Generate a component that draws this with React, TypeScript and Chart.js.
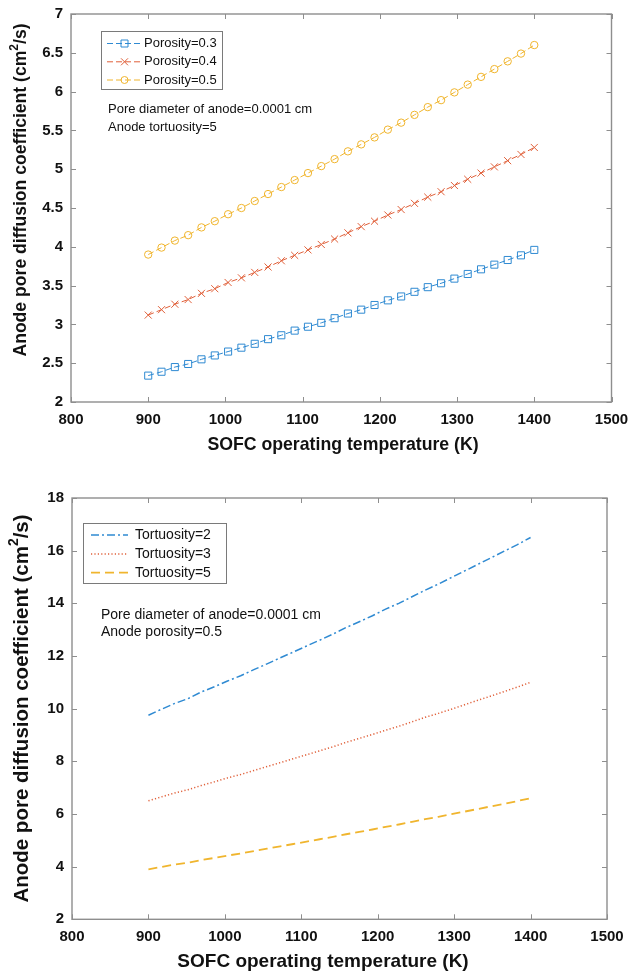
import React, { useEffect, useRef } from 'react';
import { Chart, registerables } from 'chart.js';

Chart.register(...registerables);

// ---------- data ----------
const temperatures = [900, 917.24, 934.48, 951.72, 968.97, 986.21, 1003.45, 1020.69, 1037.93, 1055.17, 1072.41, 1089.66, 1106.9, 1124.14, 1141.38, 1158.62, 1175.86, 1193.1, 1210.34, 1227.59, 1244.83, 1262.07, 1279.31, 1296.55, 1313.79, 1331.03, 1348.28, 1365.52, 1382.76, 1400];

const porosity03 = [2.34, 2.39, 2.45, 2.49, 2.55, 2.6, 2.65, 2.7, 2.75, 2.81, 2.86, 2.92, 2.97, 3.02, 3.08, 3.14, 3.19, 3.25, 3.31, 3.36, 3.42, 3.48, 3.53, 3.59, 3.65, 3.71, 3.77, 3.83, 3.89, 3.96];
const porosity04 = [3.12, 3.19, 3.26, 3.32, 3.4, 3.46, 3.54, 3.6, 3.67, 3.74, 3.82, 3.89, 3.96, 4.03, 4.1, 4.18, 4.26, 4.33, 4.41, 4.48, 4.56, 4.64, 4.71, 4.79, 4.87, 4.95, 5.03, 5.11, 5.19, 5.28];
const porosity05 = [3.9, 3.99, 4.08, 4.15, 4.25, 4.33, 4.42, 4.5, 4.59, 4.68, 4.77, 4.86, 4.95, 5.04, 5.13, 5.23, 5.32, 5.41, 5.51, 5.6, 5.7, 5.8, 5.89, 5.99, 6.09, 6.19, 6.29, 6.39, 6.49, 6.6];

const tortuosity2 = [9.75, 9.98, 10.2, 10.38, 10.63, 10.83, 11.05, 11.25, 11.48, 11.7, 11.93, 12.15, 12.38, 12.6, 12.83, 13.08, 13.3, 13.53, 13.78, 14.0, 14.25, 14.5, 14.73, 14.98, 15.23, 15.48, 15.73, 15.98, 16.23, 16.5];
const tortuosity3 = [6.5, 6.65, 6.8, 6.92, 7.08, 7.22, 7.37, 7.5, 7.65, 7.8, 7.95, 8.1, 8.25, 8.4, 8.55, 8.72, 8.87, 9.02, 9.18, 9.33, 9.5, 9.67, 9.82, 9.98, 10.15, 10.32, 10.48, 10.65, 10.82, 11.0];
const tortuosity5 = [3.9, 3.99, 4.08, 4.15, 4.25, 4.33, 4.42, 4.5, 4.59, 4.68, 4.77, 4.86, 4.95, 5.04, 5.13, 5.23, 5.32, 5.41, 5.51, 5.6, 5.7, 5.8, 5.89, 5.99, 6.09, 6.19, 6.29, 6.39, 6.49, 6.6];

const topLabels = ['Porosity=0.3', 'Porosity=0.4', 'Porosity=0.5'];
const bottomLabels = ['Tortuosity=2', 'Tortuosity=3', 'Tortuosity=5'];
const topNotes = ['Pore diameter of anode=0.0001 cm', 'Anode tortuosity=5'];
const bottomNotes = ['Pore diameter of anode=0.0001 cm', 'Anode porosity=0.5'];
const xTitleText = 'SOFC operating temperature (K)';
const yTitleParts = ['Anode pore diffusion coefficient (cm', '2', '/s)'];

const xRange = [800, 1500];
const topYRange = [2, 7];
const bottomYRange = [2, 18];

// ---------- styles ----------
const BLUE = '#2f8ad2';
const RED = '#e0603a';
const YELLOW = '#f0b52e';
const FONT = '"Liberation Sans", Arial, Helvetica, sans-serif';

function toPoints(ys: number[]) {
  return temperatures.map((t, i) => ({ x: t, y: ys[i] }));
}

function drawMarker(ctx: CanvasRenderingContext2D, style: string, x: number, y: number, s: number) {
  ctx.beginPath();
  if (style === 'rect') {
    ctx.rect(x - s, y - s, 2 * s, 2 * s);
  } else if (style === 'crossRot') {
    ctx.moveTo(x - s, y - s); ctx.lineTo(x + s, y + s);
    ctx.moveTo(x + s, y - s); ctx.lineTo(x - s, y + s);
  } else if (style === 'circle') {
    ctx.arc(x, y, s, 0, Math.PI * 2);
  }
  ctx.stroke();
}

const decorPlugin = {
  id: 'decor',
  afterDatasetsDraw(chart: any, _args: any, o: any) {
    const { ctx, chartArea: a, scales } = chart;
    ctx.save();
    // axes box
    ctx.strokeStyle = '#8e8e8e';
    ctx.lineWidth = 1.4;
    ctx.strokeRect(a.left, a.top, a.right - a.left, a.bottom - a.top);
    // inward ticks on all four sides
    ctx.lineWidth = 1;
    ctx.beginPath();
    const tl = o.tickLen;
    scales.x.ticks.forEach((t: any) => {
      const px = Math.round(scales.x.getPixelForValue(t.value)) + 0.5;
      ctx.moveTo(px, a.bottom); ctx.lineTo(px, a.bottom - tl);
      ctx.moveTo(px, a.top); ctx.lineTo(px, a.top + tl);
    });
    scales.y.ticks.forEach((t: any) => {
      const py = Math.round(scales.y.getPixelForValue(t.value)) + 0.5;
      ctx.moveTo(a.left, py); ctx.lineTo(a.left + tl, py);
      ctx.moveTo(a.right, py); ctx.lineTo(a.right - tl, py);
    });
    ctx.stroke();

    // legend
    const L = o.legend;
    ctx.fillStyle = '#ffffff';
    ctx.fillRect(L.x, L.y, L.w, L.h);
    ctx.strokeStyle = '#7a7a7a';
    ctx.lineWidth = 1;
    ctx.strokeRect(L.x + 0.5, L.y + 0.5, L.w, L.h);
    ctx.font = `${L.fontSize}px ${FONT}`;
    ctx.textBaseline = 'middle';
    ctx.textAlign = 'left';
    chart.data.datasets.forEach((ds: any, i: number) => {
      const ry = L.rows[i];
      ctx.strokeStyle = ds.borderColor;
      ctx.lineWidth = ds.borderWidth;
      ctx.setLineDash(ds.borderDash || []);
      ctx.beginPath();
      ctx.moveTo(L.s0, ry); ctx.lineTo(L.s1, ry);
      ctx.stroke();
      ctx.setLineDash([]);
      if (ds.pointRadius > 0) {
        ctx.lineWidth = 1;
        drawMarker(ctx, ds.pointStyle, (L.s0 + L.s1) / 2, ry, 3.5);
      }
      ctx.fillStyle = '#111';
      ctx.fillText(ds.label, L.tx, ry);
    });

    // notes
    const N = o.notes;
    ctx.font = `${N.fontSize}px ${FONT}`;
    ctx.fillStyle = '#111';
    N.lines.forEach((s: string, i: number) => ctx.fillText(s, N.x, N.rows[i]));

    // x title
    const X = o.xTitle;
    ctx.font = `bold ${X.fontSize}px ${FONT}`;
    ctx.textAlign = 'center';
    ctx.fillText(xTitleText, X.cx, X.cy);

    // y title with superscript
    const Y = o.yTitle;
    const big = `bold ${Y.fontSize}px ${FONT}`;
    const small = `bold ${Math.round(Y.fontSize * 0.7)}px ${FONT}`;
    ctx.font = big;
    const w1 = ctx.measureText(yTitleParts[0]).width;
    const w3 = ctx.measureText(yTitleParts[2]).width;
    ctx.font = small;
    const w2 = ctx.measureText(yTitleParts[1]).width;
    const total = w1 + w2 + w3;
    ctx.translate(Y.cx, Y.cy);
    ctx.rotate(-Math.PI / 2);
    ctx.textAlign = 'left';
    ctx.font = big;
    ctx.fillText(yTitleParts[0], -total / 2, 0);
    ctx.font = small;
    ctx.fillText(yTitleParts[1], -total / 2 + w1, -Y.fontSize * 0.38);
    ctx.font = big;
    ctx.fillText(yTitleParts[2], -total / 2 + w1 + w2, 0);
    ctx.restore();
  },
};

const plainNumber = (v: any) => String(Math.round(Number(v) * 1000) / 1000);

function makeConfig(opts: any): any {
  return {
    type: 'line',
    data: { datasets: opts.datasets },
    plugins: [decorPlugin],
    options: {
      responsive: false,
      animation: false,
      events: [],
      layout: { padding: opts.padding },
      plugins: {
        legend: { display: false },
        tooltip: { enabled: false },
        decor: opts.decor,
      },
      scales: {
        x: {
          type: 'linear',
          min: xRange[0],
          max: xRange[1],
          grid: { display: false, drawTicks: false },
          border: { display: false },
          ticks: {
            stepSize: 100,
            padding: opts.xTickPad,
            color: '#111',
            font: { family: FONT, size: opts.tickFont, weight: 'bold' },
            maxRotation: 0,
            callback: plainNumber,
          },
          afterFit: (s: any) => {
            s.height = opts.xAxisHeight;
            s.paddingLeft = 0;
            s.paddingRight = 0;
          },
        },
        y: {
          type: 'linear',
          min: opts.yRange[0],
          max: opts.yRange[1],
          grid: { display: false, drawTicks: false },
          border: { display: false },
          ticks: {
            stepSize: opts.yStep,
            padding: 8,
            color: '#111',
            font: { family: FONT, size: opts.tickFont, weight: 'bold' },
            callback: plainNumber,
          },
          afterFit: (s: any) => {
            s.width = opts.yAxisWidth;
            s.paddingTop = 0;
            s.paddingBottom = 0;
          },
        },
      },
    },
  };
}

function ChartCanvas({ config, height }: { config: any; height: number }) {
  const ref = useRef<HTMLCanvasElement | null>(null);
  useEffect(() => {
    if (!ref.current) return;
    const chart = new Chart(ref.current, config);
    return () => chart.destroy();
  }, []);
  return <canvas ref={ref} width={630} height={height} style={{ display: 'block', width: 630, height }} />;
}

export default function App() {
  useEffect(() => {
    document.body.style.margin = '0';
    document.body.style.background = '#ffffff';
  }, []);

  const topConfig = makeConfig({
    padding: { left: 0, top: 14, right: 18.5, bottom: 35 },
    xAxisHeight: 50,
    yAxisWidth: 71,
    xTickPad: 9,
    tickFont: 15,
    yRange: topYRange,
    yStep: 0.5,
    datasets: [
      { label: topLabels[0], data: toPoints(porosity03), borderColor: BLUE, borderWidth: 1, borderDash: [6, 3], pointStyle: 'rect', pointRadius: 5, pointBorderWidth: 1, pointBackgroundColor: 'rgba(0,0,0,0)', pointBorderColor: BLUE, tension: 0 },
      { label: topLabels[1], data: toPoints(porosity04), borderColor: RED, borderWidth: 1, borderDash: [6, 3], pointStyle: 'crossRot', pointRadius: 5, pointBorderWidth: 1, pointBackgroundColor: 'rgba(0,0,0,0)', pointBorderColor: RED, tension: 0 },
      { label: topLabels[2], data: toPoints(porosity05), borderColor: YELLOW, borderWidth: 1, borderDash: [6, 3], pointStyle: 'circle', pointRadius: 3.7, pointBorderWidth: 1, pointBackgroundColor: 'rgba(0,0,0,0)', pointBorderColor: YELLOW, tension: 0 },
    ],
    decor: {
      tickLen: 5,
      legend: { x: 101, y: 31, w: 121, h: 58, rows: [43.5, 61.8, 80], s0: 107, s1: 142, tx: 144, fontSize: 13 },
      notes: { x: 108, rows: [109, 127], lines: topNotes, fontSize: 13 },
      xTitle: { cx: 343, cy: 445, fontSize: 17.7 },
      yTitle: { cx: 21, cy: 190, fontSize: 17.6 },
    },
  });

  const bottomConfig = makeConfig({
    padding: { left: 0, top: 11, right: 23, bottom: 5.7 },
    xAxisHeight: 50,
    yAxisWidth: 72,
    xTickPad: 9,
    tickFont: 15,
    yRange: bottomYRange,
    yStep: 2,
    datasets: [
      { label: bottomLabels[0], data: toPoints(tortuosity2), borderColor: BLUE, borderWidth: 1.5, borderDash: [8, 3, 2, 3], pointRadius: 0, tension: 0 },
      { label: bottomLabels[1], data: toPoints(tortuosity3), borderColor: RED, borderWidth: 1.5, borderDash: [1.2, 2.2], pointRadius: 0, tension: 0 },
      { label: bottomLabels[2], data: toPoints(tortuosity5), borderColor: YELLOW, borderWidth: 1.8, borderDash: [9, 5], pointRadius: 0, tension: 0 },
    ],
    decor: {
      tickLen: 5,
      legend: { x: 83, y: 36, w: 143, h: 60, rows: [48, 67, 85.7], s0: 91, s1: 128, tx: 135, fontSize: 14 },
      notes: { x: 101, rows: [128, 145], lines: bottomNotes, fontSize: 14 },
      xTitle: { cx: 323, cy: 475, fontSize: 19 },
      yTitle: { cx: 22, cy: 221.5, fontSize: 20.5 },
    },
  });

  return (
    <div style={{ width: 630, background: '#fff' }}>
      <ChartCanvas config={topConfig} height={487} />
      <ChartCanvas config={bottomConfig} height={488} />
    </div>
  );
}
